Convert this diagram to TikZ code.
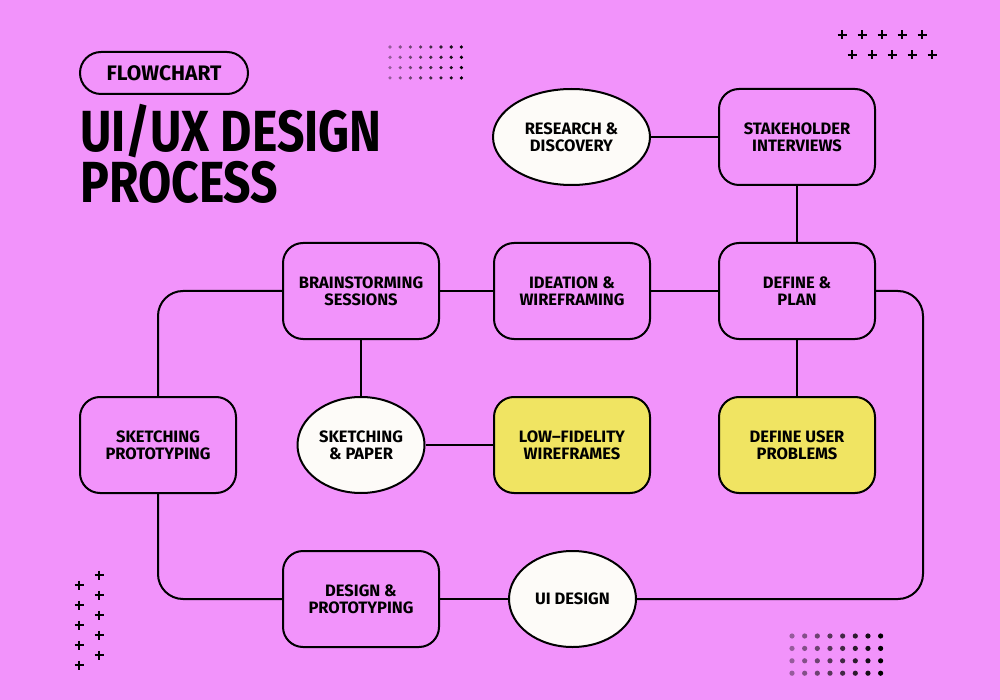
\documentclass[tikz,border=0pt]{standalone}
\usepackage{fontspec}
\setmainfont{Fira Sans}
\newfontfamily\nfont{Fira Sans Bold}
\newfontfamily\tfont{Fira Sans Bold}[FakeStretch=0.83]
\usetikzlibrary{shapes.geometric}
\definecolor{bg}{HTML}{F293FB}
\definecolor{yel}{HTML}{F0E462}
\definecolor{offw}{HTML}{FDFBF8}
\tikzset{
  box/.style={draw=black, line width=2pt, rounded corners=20pt, fill=bg,
    minimum width=156pt, minimum height=96pt, inner sep=0pt, align=center,
    font=\nfont\fontsize{16.5}{17}\selectfont},
  ybox/.style={box, fill=yel},
  ell/.style={draw=black, line width=2pt, ellipse, fill=offw, minimum height=96pt,
    inner sep=0pt, align=center, font=\nfont\fontsize{16.5}{17}\selectfont},
  conn/.style={line width=2pt, rounded corners=25pt},
  plus/.style={line width=2.6pt},
}
\begin{document}
\begin{tikzpicture}[x=1pt,y=-1pt]
\fill[bg] (0,0) rectangle (1000,700);
\useasboundingbox (0,0) rectangle (1000,700);

% header
\node[draw=black, line width=2pt, rounded corners=21pt, minimum width=168pt, minimum height=42pt,
  inner sep=0pt, font=\nfont\fontsize{21}{21}\selectfont] (tag) at (164,73) {FLOWCHART};
\node[anchor=base west, inner sep=0pt, align=left, font=\tfont\fontsize{58}{51.5}\selectfont] (title) at (80,203) {UI/UX DESIGN\\PROCESS};

% decorations: dots
\foreach \i in {0,...,7}{
  \pgfmathtruncatemacro{\pc}{38+\i*8.9}
  \foreach \j in {0,...,3}{
    \fill[black!\pc!bg] (390+\i*10.2, 47+\j*10.3) circle (1.8);
    \fill[black!\pc!bg] (792+\i*12.66, 636+\j*12.4) circle (2.6);
  }
}
% plus signs
\foreach \x in {842,862,882,902,922}{
  \draw[plus] (\x-4.5,35) -- (\x+4.5,35) (\x,30.5) -- (\x,39.5);
  \draw[plus] (\x+10-4.5,55) -- (\x+10+4.5,55) (\x+10,50.5) -- (\x+10,59.5);
}
\foreach \y in {585,605,625,645,665}{
  \draw[plus] (79-4.5,\y) -- (79+4.5,\y) (79,\y-4.5) -- (79,\y+4.5);
  \draw[plus] (99-4.5,\y-10) -- (99+4.5,\y-10) (99,\y-14.5) -- (99,\y-5.5);
}

% nodes
\node[ell, minimum width=157pt] (res) at (571.5,137) {RESEARCH \&\\DISCOVERY};
\node[box] (stake) at (797,137) {STAKEHOLDER\\INTERVIEWS};
\node[box] (brain) at (361,291) {BRAINSTORMING\\SESSIONS};
\node[box] (idea) at (572,291) {IDEATION \&\\WIREFRAMING};
\node[box] (plan) at (797,291) {DEFINE \&\\PLAN};
\node[box] (sproto) at (158,445) {SKETCHING\\PROTOTYPING};
\node[ell, minimum width=127pt] (paper) at (361,445) {SKETCHING\\\& PAPER};
\node[ybox] (lowfi) at (572,445) {LOW–FIDELITY\\WIREFRAMES};
\node[ybox] (probs) at (797,445) {DEFINE USER\\PROBLEMS};
\node[box] (design) at (361,599) {DESIGN \&\\PROTOTYPING};
\node[ell, minimum width=127pt] (ui) at (572.5,599) {UI DESIGN};

% connectors
\coordinate (rc) at (923,445);
\draw[conn] (res.east) -- (stake.west);
\draw[conn] (stake.south) -- (plan.north);
\draw[conn] (plan.west) -- (idea.east);
\draw[conn] (idea.west) -- (brain.east);
\draw[conn] (brain.west) -| (sproto.north);
\draw[conn] (brain.south) -- (paper.north);
\draw[conn] (paper.east) -- (lowfi.west);
\draw[conn] (plan.south) -- (probs.north);
\draw[conn] (sproto.south) |- (design.west);
\draw[conn] (design.east) -- (ui.west);
\draw[conn] (ui.east) -| (rc) |- (plan.east);
\end{tikzpicture}
\end{document}
